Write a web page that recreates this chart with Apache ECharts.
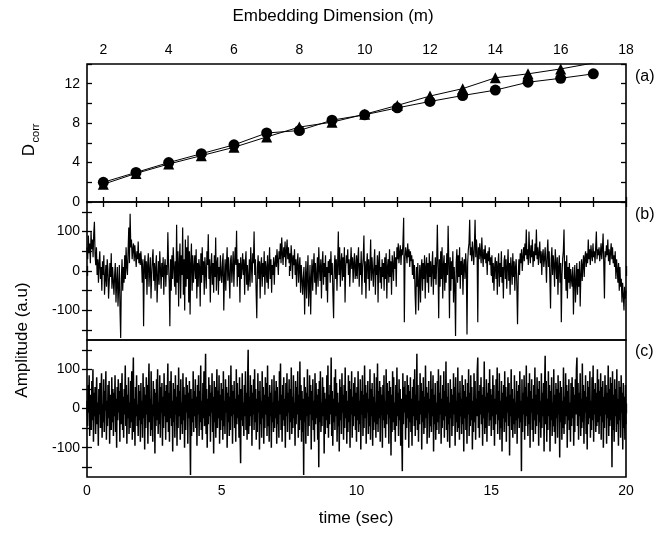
<!DOCTYPE html>
<html><head><meta charset="utf-8">
<script src="https://cdn.jsdelivr.net/npm/echarts@6/dist/echarts.min.js"></script>
<style>html,body{margin:0;padding:0;background:#fff}#c{width:666px;height:533px}</style>
</head><body><div id="c"></div>
<script>
// ---- Panel (a): correlation dimension vs embedding dimension ----
const dims = [2,3,4,5,6,7,8,9,10,11,12,13,14,15,16,17];
const dcorrCircle = [2.0,3.0,4.0,4.9,5.8,7.0,7.25,8.3,8.85,9.55,10.2,10.8,11.35,12.15,12.55,13.0];
const dcorrTriangle = [1.8,2.9,3.85,4.7,5.55,6.6,7.6,8.1,8.9,9.8,10.75,11.5,12.6,13.0,13.5,14.1];

// ---- Panel (b): signal over 0..20 s (40 samples per second) ----
const ampB = [
60,30,90,45,70,20,100,55,80,35,95,125,40,15,60,-10,30,-30,20,50,-20,10,-50,25,-10,40,-60,-20,15,-40,30,5,-70,-30,20,-15,45,-45,10,-25,
-60,-10,20,-80,-30,10,-90,-40,15,-100,-170,-20,30,-50,10,-30,40,-20,60,10,-10,50,110,20,145,60,80,30,55,70,25,65,40,10,50,30,75,20,45,15,
50,20,-30,30,-140,10,40,-20,25,-60,15,45,-40,0,35,-70,-10,30,55,-25,20,-50,10,40,-80,-20,25,-35,50,5,-45,20,-15,35,-60,10,30,-40,15,-10,
98,20,-30,-140,30,-50,40,-20,60,10,-40,25,-60,117,-30,50,-90,20,70,-70,40,-10,110,-60,30,-100,80,-40,60,-20,90,-80,50,-110,20,70,-50,40,-30,10,
40,-20,55,-70,20,-40,30,10,-90,45,-30,60,-10,25,-60,35,0,-45,50,15,93,-20,30,-80,10,45,-35,20,-55,40,-15,85,-50,20,35,-60,10,-25,40,-10,
-30,20,45,-100,-20,30,-50,15,60,-25,35,-10,-70,25,40,-30,10,50,-40,20,60,15,102,-40,30,-15,20,-80,35,-20,10,45,-10,30,-60,20,50,-35,15,-50,
-20,30,-40,60,15,-30,45,20,100,-10,30,-50,-120,10,40,-20,25,-70,15,35,-40,20,-15,50,-60,25,5,-30,40,-45,10,60,-20,30,-55,15,-10,35,-35,20,
40,10,55,25,-10,50,30,70,20,85,45,15,60,35,75,10,50,80,30,60,20,45,0,65,35,-20,40,15,55,-10,30,-40,20,45,-30,10,35,-55,15,-20,
-60,-20,10,-110,-30,25,-70,-10,40,-90,-40,15,-110,-20,30,-50,10,45,-30,20,-60,-10,35,-40,60,5,-25,30,-70,15,50,-35,20,-15,40,-50,10,-80,25,-5,
30,-30,50,-10,20,-60,-120,10,40,-20,30,-50,15,100,-10,60,-40,20,45,-25,35,-15,60,-80,10,40,20,55,-10,30,-40,15,60,5,35,-30,20,45,-20,10,
40,-20,30,60,-40,20,-10,50,-60,10,35,90,-30,25,-70,15,45,-20,30,-50,10,80,-25,35,0,-40,20,55,-60,15,-10,40,-80,25,50,-30,10,-45,30,-15,
20,-50,35,-20,45,-70,10,30,-30,55,-15,25,-60,40,15,-25,50,5,35,-40,60,30,70,20,45,65,15,55,40,75,135,-130,30,60,45,20,70,35,55,10,
50,25,40,-10,30,-20,15,-60,-110,10,-40,20,-100,-30,15,-80,5,30,-50,20,-20,40,-70,10,35,-30,20,-55,45,-15,25,-40,10,50,-60,15,-20,35,-35,20,
117,10,-120,30,-40,50,-20,60,-70,15,40,-50,20,-30,45,-10,115,20,-120,35,-50,25,-20,50,-80,10,-40,-165,20,55,-30,40,-15,60,-45,25,-10,35,-60,15,
30,-20,45,10,-161,20,55,70,130,40,60,25,75,45,15,65,130,35,80,50,-130,60,30,70,45,20,85,40,10,55,30,65,20,45,-10,50,25,60,15,35,
-10,40,-30,20,-50,10,35,-20,25,-60,15,45,-40,20,-15,50,-30,10,-70,25,40,-20,30,-45,10,55,-25,20,-60,35,5,-35,45,-15,25,-50,10,30,-40,-135,
-20,30,-10,45,20,55,0,35,60,25,70,40,105,30,55,15,100,45,20,65,35,80,10,50,25,70,40,105,30,60,15,45,75,20,50,-10,40,55,10,30,
60,20,-30,45,80,10,50,-20,-95,30,60,-10,40,15,-40,55,20,-20,35,-60,10,40,-30,20,-130,-10,30,50,105,-20,25,-50,40,-70,10,-30,20,-45,5,-20,
-40,10,-110,-20,15,-80,-30,20,-60,5,-40,25,-90,-10,30,-25,15,40,-15,35,50,10,45,20,80,30,55,15,65,40,25,70,35,50,20,60,100,30,55,40,
60,25,45,70,30,55,95,20,-70,50,35,65,40,80,25,55,15,45,70,30,60,20,40,10,50,-20,30,5,-30,20,-50,10,-40,-20,-80,-30,-60,-100,-40,-70,-50
];

// ---- Panel (c): signal over 0..20 s (50 samples per second) ----
const ampC = [
20,-45,60,-10,85,-70,35,10,-55,70,-30,100,-85,40,-20,55,-65,25,80,-40,15,-95,50,-15,65,-50,30,90,-75,10,-35,75,-60,45,-5,95,-80,20,-45,60,-25,70,-90,35,5,-55,80,-35,50,-70,
40,-20,85,-60,25,-100,55,-30,75,-10,45,-85,65,-40,20,90,-55,30,-75,50,-15,110,-45,60,-90,35,-25,80,-65,15,-50,70,-35,95,-80,40,130,-60,25,-95,55,-20,85,-45,10,-70,60,-30,45,-85,
65,-40,20,-75,90,-25,55,-105,35,-50,80,-15,60,-90,45,115,-35,25,-70,95,-55,10,-85,70,-20,50,-115,40,-45,75,-30,100,-65,15,-40,85,-75,55,-10,65,-95,30,-50,90,-20,45,-80,60,-35,25,
115,-60,40,-85,70,-25,95,-45,20,-110,65,-35,50,-75,85,-15,30,-95,60,-50,105,-20,45,-80,75,-40,15,-65,90,-30,55,-100,35,-55,80,-10,60,-90,40,-25,70,-45,-170,50,-70,25,-35,95,-60,45,
-20,75,-50,30,-95,60,-15,85,-70,45,-35,110,-55,20,-80,65,-25,95,-45,35,140,-65,50,-100,25,-40,80,-20,60,-85,40,-10,90,-60,30,-115,70,-35,55,-75,15,100,-50,45,-25,85,-90,35,-55,65,
-30,50,-80,95,-45,20,-65,75,-10,55,-100,40,-35,85,-70,30,-55,110,-20,60,-90,45,-15,70,-50,25,-85,100,-40,65,-25,35,-75,80,-60,-140,50,-30,90,-45,15,-70,60,-20,95,-55,40,-80,70,150,
-65,30,-45,85,-20,60,-95,40,-15,75,-55,100,-35,50,-80,25,-60,90,-10,45,-105,70,-40,20,-75,95,-25,55,-90,35,-50,80,-15,65,-70,110,-45,30,-85,60,-20,40,-100,75,-35,15,-60,85,-50,45,
-25,70,-90,55,-40,20,-75,95,-15,115,-55,35,-85,60,-30,80,-45,25,-100,65,-20,90,-60,40,-10,75,-80,50,-35,105,-65,30,-50,85,-25,15,-95,70,-40,55,-15,95,-75,35,-55,120,-30,60,-85,45,
-60,25,-170,80,-35,55,-90,40,-20,100,-70,30,-45,85,-15,60,-105,45,-30,75,-55,20,-85,90,-40,65,-25,35,-80,50,-150,70,-35,95,-60,15,-45,80,-20,55,-115,40,-65,25,-30,85,-50,110,-75,35,
-40,60,-15,130,-70,45,-95,25,-35,80,-55,100,-20,65,-85,40,-45,15,-110,75,-30,55,-65,90,-10,35,-80,60,-50,105,-25,45,-90,20,-60,85,-35,70,-100,50,-15,95,-75,30,-45,65,-20,80,-55,40,
-85,55,-30,95,-60,20,-40,75,-105,45,-15,85,-70,35,-50,110,-25,60,-90,40,-10,70,-65,25,-45,100,-80,50,-20,65,-95,30,-55,90,-35,15,-75,80,-40,115,-60,45,-25,70,-85,55,-15,35,-100,60,
-30,85,-50,20,-75,100,-40,65,-15,45,-90,70,-25,55,-120,35,-60,95,-35,80,-55,15,-85,60,-45,105,-20,40,-70,75,-30,50,-95,25,-65,-160,90,-40,55,-10,70,-80,35,-50,85,-25,60,-100,45,-35,
80,-60,25,-95,55,-20,75,-45,100,-70,35,-30,140,-55,60,-85,20,-40,90,-15,65,-105,45,-35,80,-65,30,-50,110,-25,55,-90,40,-10,70,-75,25,-45,95,-60,50,-20,85,-110,35,-40,65,-80,15,-55,
70,-35,100,-65,40,-15,85,-90,25,-50,60,-30,95,-75,45,-20,120,-55,30,-85,65,-40,15,-100,75,-25,50,-70,35,-45,90,-15,55,-95,80,-35,20,-60,105,-50,40,-80,70,-20,25,-65,85,-40,60,-110,
45,-25,75,-55,30,-90,65,-15,100,-70,40,-45,85,-30,55,-105,20,-60,90,-35,70,-80,25,-20,95,130,-50,45,-75,60,-15,80,-40,35,-95,55,-25,120,-65,30,-50,75,-85,40,-10,65,-45,100,-30,50,
-70,35,-20,85,-55,60,-95,25,-40,75,-15,105,-65,45,-30,90,-80,20,-50,70,-110,40,-25,60,-60,95,-35,55,-85,30,-10,80,-45,65,-120,35,-20,100,-55,50,-75,25,-40,85,-65,15,-30,70,-90,45,
-25,60,-50,95,-35,20,-160,75,-60,40,-15,85,-80,55,-45,110,-20,30,-70,65,-40,90,-100,45,-10,75,-55,25,-85,60,-30,105,-65,35,-45,80,-15,50,-95,70,-35,20,-75,90,-50,40,-20,65,-110,55,
135,-40,70,-85,25,-55,95,-20,60,-110,45,-30,80,-70,15,-45,100,-60,35,-90,65,-25,50,-75,85,-15,40,-125,70,-35,55,-80,20,-50,105,-65,30,-40,90,-20,60,-100,45,-30,75,-55,15,-85,65,-45,
80,-25,55,-95,35,-60,75,-15,100,130,-45,65,-80,40,-20,90,-70,25,-50,115,-35,60,-90,45,-10,85,-65,30,-105,70,-40,55,-25,95,-75,20,-55,80,-30,110,-85,50,-15,65,-60,40,-45,100,-35,75,
-65,45,-20,90,-80,55,-35,70,-100,30,-50,85,-15,60,-90,40,-25,110,-70,50,-45,80,-30,65,-150,95,-55,35,-85,75,-20,50,-60,100,-40,25,-95,70,-30,55,-75,85,-10,40,-105,65,-50,30,-80,60,-40
];

// ---- Axis ticks / labels ----
const dimTicks = [2,3,4,5,6,7,8,9,10,11,12,13,14,15,16,17,18];
const dimLabels = [2,4,6,8,10,12,14,16,18];
const dcorrTicks = [0,2,4,6,8,10,12,14];
const dcorrLabels = [0,4,8,12];
const timeTicks = [0,2.5,5,7.5,10,12.5,15,17.5,20];
const timeLabels = [0,5,10,15,20];
const ampTicks = [-150,-100,-50,0,50,100,150];
const ampLabels = [-100,0,100];
const tStart = 0, tEnd = 20;

const FONT = '"Liberation Sans", Arial, Helvetica, sans-serif';
const chart = echarts.init(document.getElementById('c'), null, {renderer:'canvas'});

function ax(gridIndex, position, min, max, ticks, labels, showLabel) {
  return {
    type:'value', gridIndex, position, min, max,
    axisLine:{show:false}, splitLine:{show:false},
    axisTick:{show:true, inside:true, length:5, customValues:ticks, lineStyle:{color:'#000', width:1.3}},
    axisLabel:{show:showLabel, customValues:labels, color:'#000', fontSize:14, fontFamily:FONT,
               margin:7, showMinLabel:true, showMaxLabel:true}
  };
}
const gridBase = {left:87, right:40, show:true, borderColor:'#000', borderWidth:1.6, backgroundColor:'transparent'};

const timed = arr => arr.map((v,i)=>[tStart + (tEnd - tStart) * i / (arr.length - 1), v]);
const lineSeries = (data, xi, yi, w) => ({
  type:'line', xAxisIndex:xi, yAxisIndex:yi, data, showSymbol:false, symbol:'none',
  lineStyle:{color:'#000', width:w}, animation:false, clip:true, sampling:null
});

chart.setOption({
  animation:false,
  backgroundColor:'#fff',
  grid:[
    Object.assign({top:64, height:138}, gridBase),
    Object.assign({top:202, height:138}, gridBase),
    Object.assign({top:340, height:137}, gridBase)
  ],
  xAxis:[
    ax(0,'top',1.5,18,dimTicks,dimLabels,true),
    ax(0,'bottom',1.5,18,dimTicks,dimLabels,false),
    ax(1,'bottom',0,20,timeTicks,timeLabels,false),
    ax(1,'top',0,20,timeTicks,timeLabels,false),
    ax(2,'bottom',0,20,timeTicks,timeLabels,true),
    ax(2,'top',0,20,timeTicks,timeLabels,false)
  ],
  yAxis:[
    ax(0,'left',0,14,dcorrTicks,dcorrLabels,true),
    ax(0,'right',0,14,dcorrTicks,dcorrLabels,false),
    ax(1,'left',-175,175,ampTicks,ampLabels,true),
    ax(1,'right',-175,175,ampTicks,ampLabels,false),
    ax(2,'left',-175,175,ampTicks,ampLabels,true),
    ax(2,'right',-175,175,ampTicks,ampLabels,false)
  ],
  series:[
    {type:'line', xAxisIndex:0, yAxisIndex:0, data:dims.map((d,i)=>[d,dcorrTriangle[i]]),
     symbol:'triangle', symbolSize:11, itemStyle:{color:'#000'}, lineStyle:{color:'#000', width:1},
     animation:false, clip:true},
    {type:'line', xAxisIndex:0, yAxisIndex:0, data:dims.map((d,i)=>[d,dcorrCircle[i]]),
     symbol:'circle', symbolSize:11, itemStyle:{color:'#000'}, lineStyle:{color:'#000', width:1},
     animation:false, clip:true},
    lineSeries(timed(ampB), 2, 2, 1.2),
    lineSeries(timed(ampC), 4, 4, 1.5)
  ],
  graphic:[
    {type:'text', left:'center', top:8, style:{text:'Embedding Dimension (m)', font:'17px '+FONT, fill:'#000'}},
    {type:'text', x:356, y:518, style:{text:'time (sec)', font:'17px '+FONT, fill:'#000', align:'center', verticalAlign:'middle'}},
    {type:'text', x:22, y:340, rotation:Math.PI/2, style:{text:'Amplitude (a.u)', font:'17px '+FONT, fill:'#000', align:'center', verticalAlign:'middle'}},
    {type:'text', x:29, y:150, rotation:Math.PI/2, style:{text:'D', font:'17px '+FONT, fill:'#000', align:'center', verticalAlign:'middle'}},
    {type:'text', x:36, y:133, rotation:Math.PI/2, style:{text:'corr', font:'11px '+FONT, fill:'#000', align:'center', verticalAlign:'middle'}},
    {type:'text', x:635, y:77, style:{text:'(a)', font:'16px '+FONT, fill:'#000', align:'left', verticalAlign:'middle'}},
    {type:'text', x:635, y:215, style:{text:'(b)', font:'16px '+FONT, fill:'#000', align:'left', verticalAlign:'middle'}},
    {type:'text', x:635, y:352, style:{text:'(c)', font:'16px '+FONT, fill:'#000', align:'left', verticalAlign:'middle'}}
  ]
});
</script></body></html>
